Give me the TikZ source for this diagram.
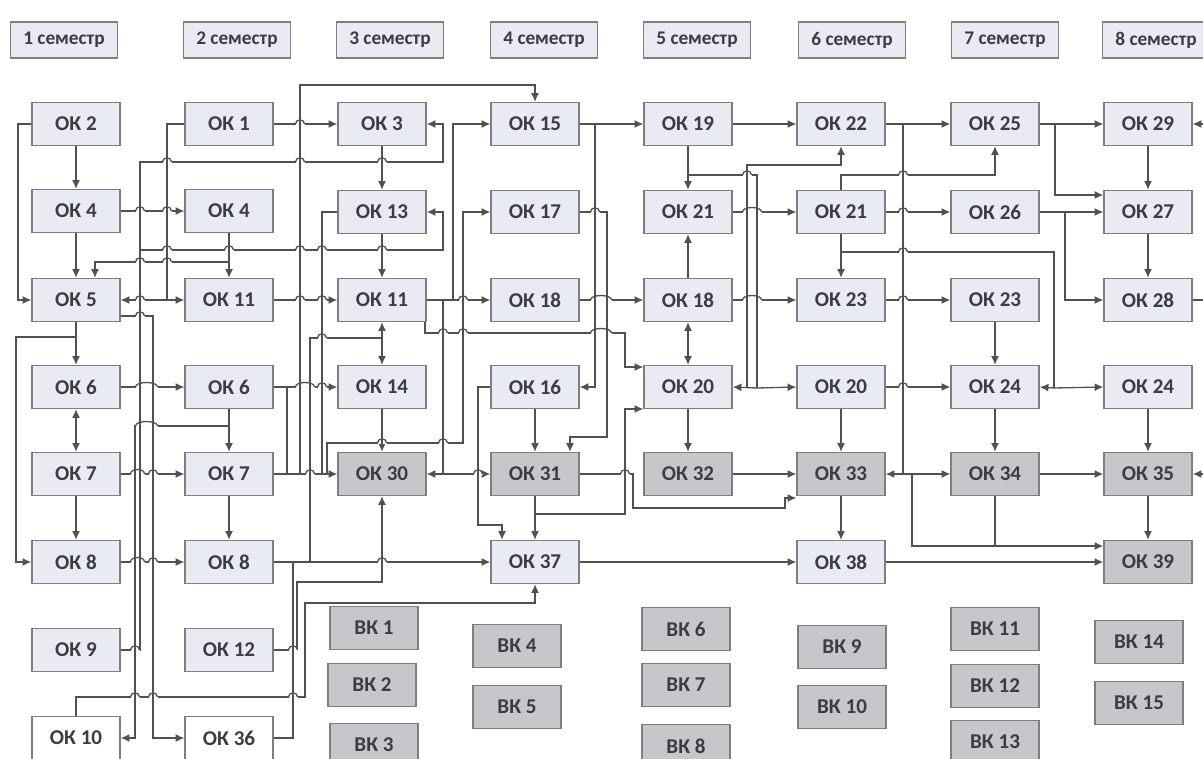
\documentclass[tikz,border=0pt]{standalone}
\usepackage{fontspec}
\setmainfont{Carlito}
\usepackage{xcolor}
\usepackage{tikz}
\usetikzlibrary{arrows.meta, positioning, calc}
\definecolor{boxfill}{RGB}{232, 236, 242}
\definecolor{darkfill}{RGB}{198, 199, 202}
\definecolor{edgegray}{RGB}{125, 125, 130}
\definecolor{linegray}{RGB}{80, 80, 85}
\definecolor{textgray}{RGB}{60, 60, 66}

% small bump where a horizontal link passes over a vertical one
\newcommand{\jumpone}[2]{%
  \fill[white] (#1-4.5,#2-1.1) rectangle (#1+4.5,#2+1.1);
  \draw[ln] (#1,#2-2) -- (#1,#2+2);
  \draw[ln] (#1-4.5,#2) .. controls (#1-4.5,#2-5.5) and (#1+4.5,#2-5.5) .. (#1+4.5,#2);}
\newcommand{\jumptwo}[3]{%
  \fill[white] (#1-4.5,#3-1.1) rectangle (#2+4.5,#3+1.1);
  \draw[ln] (#1,#3-2) -- (#1,#3+2);
  \draw[ln] (#2,#3-2) -- (#2,#3+2);
  \draw[ln] (#1-4.5,#3) .. controls (#1-4.5,#3-6) and (#2+4.5,#3-6) .. (#2+4.5,#3);}

\begin{document}
\begin{tikzpicture}[x=0.02cm, y=-0.02cm,
    ok/.style={rectangle, draw=edgegray, fill=boxfill, line width=0.7pt,
               minimum width=1.76cm, minimum height=0.86cm,
               font=\fontsize{12}{14}\selectfont\bfseries, text=textgray},
    okd/.style={ok, fill=darkfill},
    vk/.style={ok, fill=darkfill},
    sem/.style={ok, minimum width=2.14cm, minimum height=0.72cm,
                font=\fontsize{11}{13}\selectfont\bfseries},
    ln/.style={line width=0.75pt, linegray},
    dep/.style={ln, -{Latex[length=5pt, width=4.5pt]}},
    both/.style={ln, {Latex[length=5pt, width=4.5pt]}-{Latex[length=5pt, width=4.5pt]}}
]
\useasboundingbox (0,0) rectangle (1203,758);

%% ── SEMESTERS ───────────────────────────────────────────────────────────────
\node[sem] (s1) at (64,40)   {1 семестр};
\node[sem] (s2) at (237,40)  {2 семестр};
\node[sem] (s3) at (390,40)  {3 семестр};
\node[sem] (s4) at (544,40)  {4 семестр};
\node[sem] (s5) at (697,40)  {5 семестр};
\node[sem] (s6) at (852,40)  {6 семестр};
\node[sem] (s7) at (1005,40) {7 семестр};
\node[sem] (s8) at (1156,40) {8 семестр};

%% ── 1 SEMESTER ──────────────────────────────────────────────────────────────
\node[ok] (ok2)  at (76,124) {ОК 2};
\node[ok] (ok4a) at (76,211) {ОК 4};
\node[ok] (ok5)  at (76,300) {ОК 5};
\node[ok] (ok6a) at (76,387) {ОК 6};
\node[ok] (ok7a) at (76,474) {ОК 7};
\node[ok] (ok8a) at (76,562) {ОК 8};
\node[ok] (ok9)  at (76,650) {ОК 9};
\node[ok, fill=white] (ok10) at (76,738) {ОК 10};

%% ── 2 SEMESTER ──────────────────────────────────────────────────────────────
\node[ok] (ok1)   at (229,124) {ОК 1};
\node[ok] (ok4b)  at (229,211) {ОК 4};
\node[ok] (ok11a) at (229,300) {ОК 11};
\node[ok] (ok6b)  at (229,387) {ОК 6};
\node[ok] (ok7b)  at (229,474) {ОК 7};
\node[ok] (ok8b)  at (229,562) {ОК 8};
\node[ok] (ok12)  at (229,650) {ОК 12};
\node[ok, fill=white] (ok36) at (229,738) {ОК 36};

%% ── 3 SEMESTER ──────────────────────────────────────────────────────────────
\node[ok]  (ok3)   at (382,124) {ОК 3};
\node[ok]  (ok13)  at (382,212) {ОК 13};
\node[ok]  (ok11b) at (382,300) {ОК 11};
\node[ok]  (ok14)  at (382,387) {ОК 14};
\node[okd] (ok30)  at (382,474) {ОК 30};
\node[vk]  (vk1) at (374,628) {ВК 1};
\node[vk]  (vk2) at (372,685) {ВК 2};
\node[vk]  (vk3) at (374,745) {ВК 3};

%% ── 4 SEMESTER ──────────────────────────────────────────────────────────────
\node[ok]  (ok15)  at (535,124) {ОК 15};
\node[ok]  (ok17)  at (535,212) {ОК 17};
\node[ok]  (ok18a) at (535,300) {ОК 18};
\node[ok]  (ok16)  at (535,387) {ОК 16};
\node[okd] (ok31)  at (535,474) {ОК 31};
\node[ok]  (ok37)  at (535,562) {ОК 37};
\node[vk]  (vk4) at (517,646) {ВК 4};
\node[vk]  (vk5) at (517,707) {ВК 5};

%% ── 5 SEMESTER ──────────────────────────────────────────────────────────────
\node[ok]  (ok19)  at (688,124) {ОК 19};
\node[ok]  (ok21a) at (688,212) {ОК 21};
\node[ok]  (ok18b) at (688,300) {ОК 18};
\node[ok]  (ok20a) at (688,387) {ОК 20};
\node[okd] (ok32)  at (688,474) {ОК 32};
\node[vk]  (vk6) at (686,629) {ВК 6};
\node[vk]  (vk7) at (686,685) {ВК 7};
\node[vk]  (vk8) at (686,746) {ВК 8};

%% ── 6 SEMESTER ──────────────────────────────────────────────────────────────
\node[ok]  (ok22)  at (841,124) {ОК 22};
\node[ok]  (ok21b) at (841,212) {ОК 21};
\node[ok]  (ok23a) at (841,300) {ОК 23};
\node[ok]  (ok20b) at (841,387) {ОК 20};
\node[okd] (ok33)  at (841,474) {ОК 33};
\node[ok]  (ok38)  at (841,562) {ОК 38};
\node[vk]  (vk9)  at (842,647) {ВК 9};
\node[vk]  (vk10) at (842,707) {ВК 10};

%% ── 7 SEMESTER ──────────────────────────────────────────────────────────────
\node[ok]  (ok25)  at (995,124) {ОК 25};
\node[ok]  (ok26)  at (995,212) {ОК 26};
\node[ok]  (ok23b) at (995,300) {ОК 23};
\node[ok]  (ok24a) at (995,387) {ОК 24};
\node[okd] (ok34)  at (995,474) {ОК 34};
\node[vk]  (vk11) at (995,629) {ВК 11};
\node[vk]  (vk12) at (995,686) {ВК 12};
\node[vk]  (vk13) at (995,742) {ВК 13};

%% ── 8 SEMESTER ──────────────────────────────────────────────────────────────
\node[ok]  (ok29)  at (1148,124) {ОК 29};
\node[ok]  (ok27)  at (1148,212) {ОК 27};
\node[ok]  (ok28)  at (1148,300) {ОК 28};
\node[ok]  (ok24b) at (1148,387) {ОК 24};
\node[okd] (ok35)  at (1148,474) {ОК 35};
\node[okd] (ok39)  at (1148,562) {ОК 39};
\node[vk]  (vk14) at (1139,642) {ВК 14};
\node[vk]  (vk15) at (1139,703) {ВК 15};

%% ── Links ───────────────────────────────────────────────────────────────────
% 1 semester
\draw[dep] (ok2) -- (ok4a);
\draw[dep] (ok2.west) -- (18,124) |- (ok5.west);
\draw[dep] (ok4a) -- (ok5);
\draw[dep] (ok4a) -- (ok4b);
\draw[dep] (ok5) -- (ok6a);
\draw[dep] (ok5.south) |- (16,337) |- (ok8a.west);
\draw[both] (ok6a) -- (ok7a);
\draw[dep] (ok7a) -- (ok8a);
\draw[dep] (ok6a) -- (ok6b);
\draw[dep] (ok7a) -- (ok7b);
\draw[dep] (ok8a) -- (ok8b);
\draw[dep] (ok5.east |- 0,316) -| (153,738) -- (ok36.west);
\draw[dep] (ok9.east) -- (140,650) |- (443,162) |- (ok3.east);
\draw[dep] (140,250) -- (443,250) |- (ok13.east);

% 2 semester
\draw[dep] (ok1.west) -| (167,300) -- (ok11a.west);
\draw[dep] (167,300) -- (ok5.east);
\draw[dep] (ok4b) -- (ok11a);
\draw[dep] (229,262) -| (ok5.north -| 95,0);
\draw[dep] (ok6b) -- (ok7b);
\draw[dep] (229,426) -| (135,738) -- (ok10.east);
\draw[dep] (ok7b) -- (ok8b);
\draw[dep] (ok1) -- (ok3);
\draw[dep] (ok11a) -- (ok11b);
\draw[dep] (ok6b) -- (ok14);
\draw[ln]  (ok6b.east) -- (287,387) -- (287,474);
\draw[dep] (ok7b) -- (ok30);
\draw[dep] (300,474) -- (300,85) -| (ok15.north);
\draw[ln]  (ok13.west) -| (322,474);
\draw[dep] (327,474) -- (327,443) -| (463,212) -- (ok17.west);
\draw[dep] (ok8b) -- (ok37);
\draw[ln]  (310,562) |- (382,338);
\draw[dep] (382,338) -- (ok11b.south);
\draw[dep] (382,338) -- (ok14.north);
\draw[dep] (ok12.east) -| (297,582) -| (ok30.south);
\draw[ln]  (ok36.east) -| (293,562);
\draw[dep] (ok10.north) |- (305,697) |- (ok37.south |- 0,603) -- (ok37.south);

% 3 semester
\draw[dep] (ok3) -- (ok13);
\draw[dep] (ok13) -- (ok11b);
\draw[dep] (ok14) -- (ok30);
\draw[dep] (ok11b) -- (ok18a);
\draw[dep] (453,300) |- (ok15.west);
\draw[dep] (443,300) -- (443,474) -- (ok30.east);
\draw[dep] (443,474) -- (ok31.west);
\draw[dep] (ok11b.south -| 425,0) |- (625,333) |- (ok20a.west |- 0,367);

% 4 semester
\draw[dep] (ok15) -- (ok19);
\draw[dep] (595,124) |- (ok16.east);
\draw[dep] (ok17.east) -| (607,437) -| (ok31.north -| 570,0);
\draw[dep] (ok16) -- (ok31);
\draw[dep] (ok31) -- (ok37);
\draw[dep] (ok16.west) -| (478,525) -| (ok37.north -| 502,0);
\draw[dep] (535,514) -| (625,409) -- (ok20a.west |- 0,409);
\draw[dep] (ok31.east) -| (633,508) -| (785,498) -- (ok33.west |- 0,498);
\draw[dep] (ok18a) -- (ok18b);

% 5 semester
\draw[dep] (ok19) -- (ok22);
\draw[dep] (ok19) -- (ok21a);
\draw[ln]  (688,175) -| (757,388);
\draw[dep] (757,388) -- (ok20b.west);
\draw[dep] (757,388) -- (ok20a.east);
\draw[dep] (747,388) -- (747,165) -| (ok22.south);
\draw[dep] (ok18b) -- (ok21a);
\draw[both] (ok18b) -- (ok20a);
\draw[dep] (ok21a) -- (ok21b);
\draw[dep] (ok18b) -- (ok23a);
\draw[dep] (ok20a) -- (ok32);
\draw[dep] (ok32) -- (ok33);

% 6 semester
\draw[dep] (ok22) -- (ok25);
\draw[ln]  (903,124) -- (903,474);
\draw[dep] (903,474) -- (ok33.east);
\draw[dep] (903,474) -- (ok34.west);
\draw[dep] (912,474) |- (ok39.west |- 0,546);
\draw[ln]  (ok34.south) -- (ok34.south |- 0,546);
\draw[dep] (ok20b) -- (ok33);
\draw[dep] (ok33) -- (ok38);
\draw[dep] (ok37) -- (ok38);
\draw[dep] (ok38) -- (ok39);
\draw[dep] (ok21b) -- (ok26);
\draw[dep] (ok21b.north) -- (841,175) -| (ok25.south);
\draw[dep] (ok21b) -- (ok23a);
\draw[ln]  (841,252) -| (1054,388);
\draw[dep] (1054,388) -- (ok24a.east);
\draw[dep] (1054,388) -- (ok24b.west);
\draw[dep] (ok23a) -- (ok23b);
\draw[dep] (ok20b) -- (ok24a);

% 7 and 8 semester
\draw[dep] (ok25) -- (ok29);
\draw[dep] (1055,124) |- (ok27.west |- 0,195);
\draw[dep] (ok29) -- (ok27);
\draw[dep] (ok26) -- (ok27);
\draw[dep] (1065,212) |- (ok28.west);
\draw[dep] (ok27) -- (ok28);
\draw[dep] (ok23b) -- (ok24a);
\draw[dep] (ok24a) -- (ok34);
\draw[dep] (ok24b) -- (ok35);
\draw[dep] (ok34) -- (ok35);
\draw[dep] (ok35) -- (ok39);
\draw[ln]  (ok28.east) -- (1212,300);
\draw[dep] (1212,300) |- (ok29.east);
\draw[dep] (1212,300) |- (ok35.east);

%% ── Line jumps ──────────────────────────────────────────────────────────────
\foreach \jx/\jy in {300/124, 167/162, 300/162, 382/162, 747/175, 903/175,
                     140/211, 167/211, 595/212, 903/212,
                     167/250, 229/250, 300/250, 322/250, 382/250, 903/252,
                     140/262, 167/262, 140/300, 300/300, 322/300, 463/300, 903/300,
                     140/316, 443/333, 463/333, 322/338,
                     322/387, 903/387, 382/443, 443/443,
                     153/474, 310/474, 478/474, 625/474,
                     153/562, 382/562, 135/650, 293/650,
                     135/697, 153/697, 293/697}
  {\jumpone{\jx}{\jy}}
\foreach \ja/\jb/\jy in {747/757/212, 595/607/300, 747/757/300, 595/607/333,
                         140/153/387, 300/310/387, 140/153/426,
                         135/140/474, 135/140/562}
  {\jumptwo{\ja}{\jb}{\jy}}

\end{tikzpicture}
\end{document}
